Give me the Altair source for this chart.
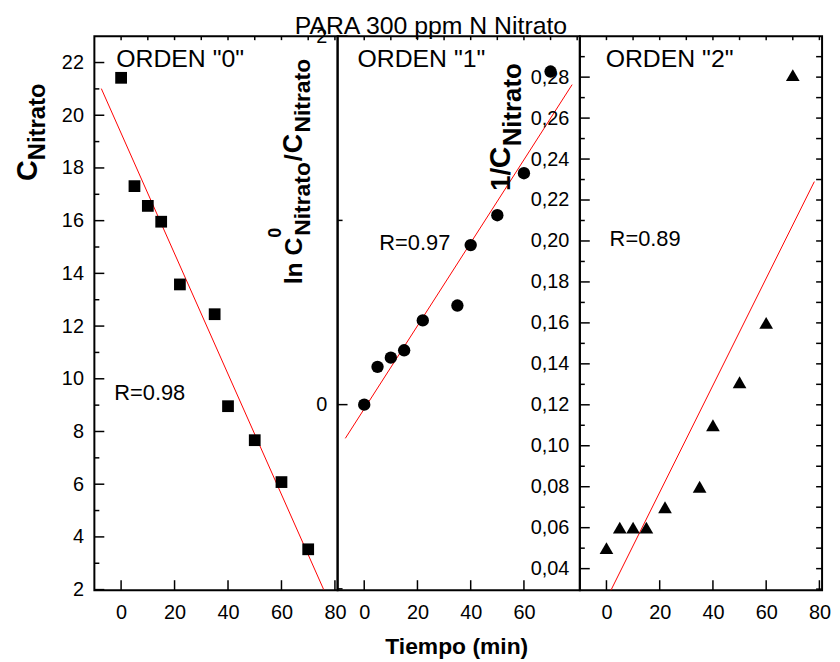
import altair as alt
import pandas as pd

FONT = "Liberation Sans"

# ---- data ----
tiempo = [0, 5, 10, 15, 22, 35, 40, 50, 60, 70]
c_nitrato = [21.42, 17.31, 16.56, 15.96, 13.58, 12.45, 8.96, 7.67, 6.08, 3.53]
ln_c0_c = [0.0, 0.205, 0.255, 0.295, 0.457, 0.538, 0.866, 1.028, 1.256, 1.808]
inv_c = [0.050, 0.060, 0.060, 0.060, 0.070, 0.080, 0.110, 0.131, 0.160, 0.281]

# fitted lines (end points)
fit0_t = [-7.4, 75.8]
fit0_v = [21.01, 2.0]
fit1_t = [-7.1, 78.1]
fit1_v = [-0.183, 1.737]
fit2_t = [1.7, 78.1]
fit2_v = [0.0295, 0.229]

# axes
x_domain = [-10, 81]
y0_domain = [1.98, 23.0]
y1_domain = [-1.007, 2.0]
y2_domain = [0.0295, 0.300]

x_labels_full = [0, 20, 40, 60, 80]
x_labels_mid = [0, 20, 40, 60]
x_top_ticks = [0, 10, 20, 30, 40, 50, 60, 70, 80]

y0_major = [2, 4, 6, 8, 10, 12, 14, 16, 18, 20, 22]
y0_minor = [3, 5, 7, 9, 11, 13, 15, 17, 19, 21]
y1_major = [0, 2]
y1_minor = [-1, 1]
y2_major = [0.04, 0.06, 0.08, 0.10, 0.12, 0.14, 0.16, 0.18, 0.20, 0.22, 0.24, 0.26, 0.28]
y2_minor = [0.05, 0.07, 0.09, 0.11, 0.13, 0.15, 0.17, 0.19, 0.21, 0.23, 0.25, 0.27, 0.29]
y2_right = [0.03, 0.04, 0.05, 0.06, 0.07, 0.08, 0.09, 0.10, 0.11, 0.12, 0.13, 0.14, 0.15,
            0.16, 0.17, 0.18, 0.19, 0.20, 0.21, 0.22, 0.23, 0.24, 0.25, 0.26, 0.27, 0.28, 0.29]

H = 558


def txt(text, x, y, size, bold=False, angle=0, align="left"):
    kw = dict(text=text, align=align, baseline="alphabetic", font=FONT,
              fontSize=size, fontWeight="bold" if bold else "normal", color="black")
    if angle:
        kw["angle"] = angle
    return alt.Chart(alt.Data(values=[{"a": 1}])).mark_text(**kw).encode(
        x=alt.value(x), y=alt.value(y))


def panel(W, ydom, tvals, vvals, point_mark, ft, fv, y_labels, y_fmt_expr,
          x_labels, y_major, y_minor, y_right, texts):
    xaxis = alt.Axis(values=x_labels, title=None, ticks=False, domain=False, grid=False,
                     labelFont=FONT, labelFontSize=20, labelColor="black",
                     labelPadding=13, labelOverlap=False, labelFlush=False, format="d")
    yaxis = alt.Axis(values=y_labels, title=None, ticks=False, domain=False, grid=False,
                     labelFont=FONT, labelFontSize=20, labelColor="black",
                     labelPadding=11, labelOverlap=False, labelExpr=y_fmt_expr)

    def X():
        return alt.X("t:Q", scale=alt.Scale(domain=x_domain, nice=False, zero=False), axis=xaxis)

    def Y():
        return alt.Y("v:Q", scale=alt.Scale(domain=ydom, nice=False, zero=False), axis=yaxis)

    pts_df = pd.DataFrame({"t": tvals, "v": vvals})
    fit_df = pd.DataFrame({"t": ft, "v": fv})

    layers = [
        alt.Chart(fit_df).mark_line(color="red", strokeWidth=1).encode(x=X(), y=Y()),
        point_mark(alt.Chart(pts_df)).encode(x=X(), y=Y()),
        # inward ticks
        alt.Chart(pd.DataFrame({"v": y_major})).mark_rule(color="black", strokeWidth=1.5)
        .encode(y=Y(), x=alt.value(0), x2=alt.value(10)),
        alt.Chart(pd.DataFrame({"v": y_minor})).mark_rule(color="black", strokeWidth=1.5)
        .encode(y=Y(), x=alt.value(0), x2=alt.value(5)),
        alt.Chart(pd.DataFrame({"t": x_top_ticks})).mark_rule(color="black", strokeWidth=1.5)
        .encode(x=X(), y=alt.value(0), y2=alt.value(4)),
        alt.Chart(pd.DataFrame({"t": x_labels})).mark_rule(color="black", strokeWidth=1.5)
        .encode(x=X(), y=alt.value(H), y2=alt.value(H - 10)),
    ]
    if y_right:
        layers.append(alt.Chart(pd.DataFrame({"v": y_right})).mark_rule(color="black", strokeWidth=1.5)
                      .encode(y=Y(), x=alt.value(W), x2=alt.value(W - 6)))
    layers.extend(texts)
    return alt.layer(*layers).properties(width=W, height=H)


anchor = alt.Chart(alt.Data(values=[{"a": 1}])).mark_point(opacity=0, size=1).encode(
    x=alt.value(-85), y=alt.value(-24))

p1 = panel(
    245, y0_domain, tiempo, c_nitrato,
    lambda c: c.mark_square(size=140, color="black", opacity=1),
    fit0_t, fit0_v, y0_major, "format(datum.value, 'd')", x_labels_full,
    y0_major, y0_minor, None,
    [
        anchor,
        txt('ORDEN "0"', 22, 31, 25),
        txt("R=0.98", 20, 366, 22),
        txt("C", -58, 146, 29, bold=True, angle=270),
        txt("Nitrato", -50, 125, 24, bold=True, angle=270),
    ],
)

p2 = panel(
    244, y1_domain, tiempo, ln_c0_c,
    lambda c: c.mark_circle(size=155, color="black", opacity=1),
    fit1_t, fit1_v, y1_major, "format(datum.value, 'd')", x_labels_mid,
    y1_major, y1_minor, None,
    [
        txt('ORDEN "1"', 20, 31, 25),
        txt("R=0.97", 42, 215, 22),
        txt("PARA 300 ppm N Nitrato", 94, -2, 25, align="center"),
        txt("Tiempo (min)", 120, 622, 23, bold=True, align="center"),
        txt("ln C", -36, 250, 25, bold=True, angle=270),
        txt("0", -57, 203, 18, bold=True, angle=270),
        txt("Nitrato", -28, 201, 23, bold=True, angle=270),
        txt("/", -36, 126, 25, bold=True, angle=270),
        txt("C", -36, 118, 27, bold=True, angle=270),
        txt("Nitrato", -28, 97, 23, bold=True, angle=270),
    ],
)

p3 = panel(
    244, y2_domain, tiempo, inv_c,
    lambda c: c.mark_point(shape="triangle-up", filled=True, size=190, color="black", opacity=1),
    fit2_t, fit2_v, y2_major, "replace(format(datum.value, '.2f'), '.', ',')", x_labels_full,
    y2_major, y2_minor, y2_right,
    [
        txt('ORDEN "2"', 26, 31, 25),
        txt("R=0.89", 30, 211, 22),
        txt("1/", -70, 156, 28, bold=True, angle=270),
        txt("C", -70, 133, 30, bold=True, angle=270),
        txt("Nitrato", -59, 111, 26, bold=True, angle=270),
    ],
)

chart = alt.hconcat(
    p1, p2, p3, spacing=0, bounds="flush", padding=0, background="white"
).configure_view(stroke="black", strokeWidth=2)

chart.save("out.html", embed_options={"renderer": "svg", "actions": False})
